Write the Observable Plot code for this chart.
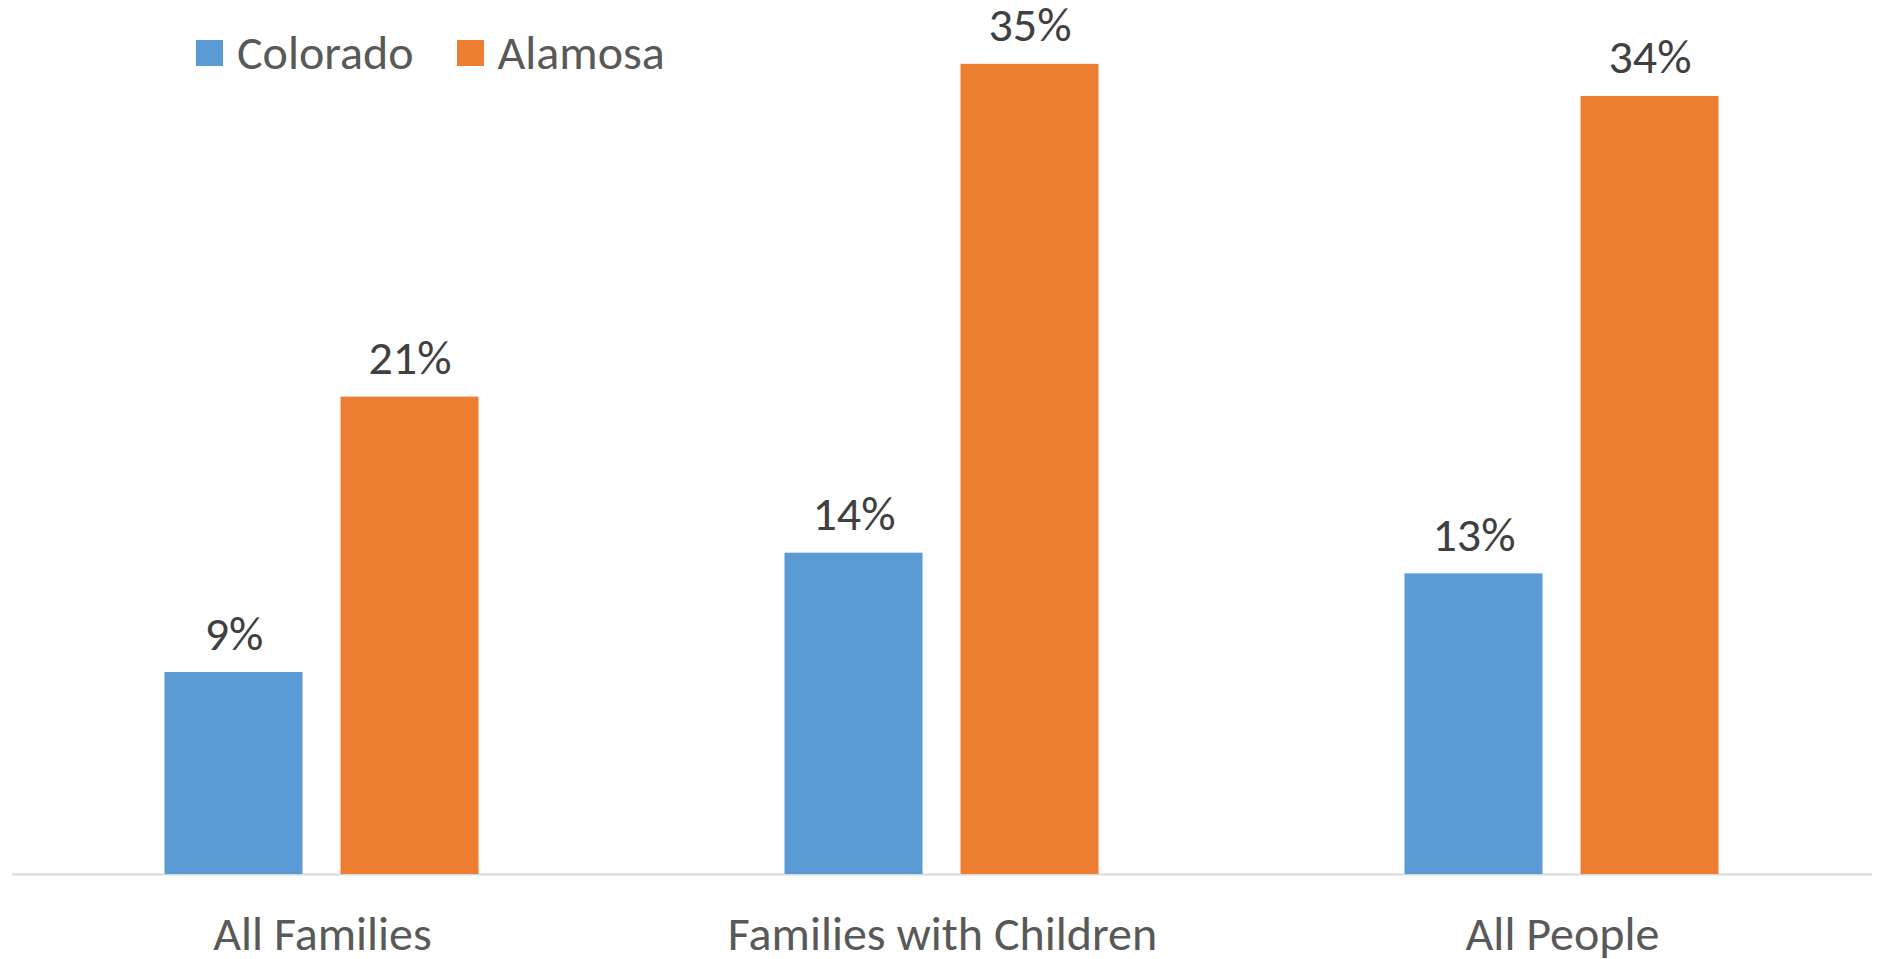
<!DOCTYPE html>
<html>
<head>
<meta charset="utf-8">
<script src="https://cdn.jsdelivr.net/npm/d3@7"></script>
<script src="https://cdn.jsdelivr.net/npm/@observablehq/plot@0.6"></script>
<style>
  html, body { margin: 0; padding: 0; background: #fff; }
  #wrap { position: relative; width: 1883px; height: 959px; font-family: Calibri, Carlito, Lato, sans-serif; }
  #legend { position: absolute; left: 196px; top: 23px; display: flex; align-items: center; font-size: 48px; color: #595959; }
  .sw { width: 27px; height: 26px; display: inline-block; margin-right: 14px; }
  .item { display: flex; align-items: center; margin-right: 43px; }
</style>
</head>
<body>
<div id="wrap"><div id="legend"></div></div>
<script>
const categories = ["All Families", "Families with Children", "All People"];
const seriesNames = ["Colorado", "Alamosa"];
const colorado = [8.8, 14.0, 13.1];
const alamosa = [20.8, 35.3, 33.9];
const seriesColors = ["#5b9bd5", "#ed7d31"];

const data = [];
categories.forEach((c, i) => {
  data.push({category: c, series: "Colorado", value: colorado[i]});
  data.push({category: c, series: "Alamosa", value: alamosa[i]});
});

const font = "Calibri, Carlito, Lato, sans-serif";

const chart = Plot.plot({
  width: 1883,
  height: 959,
  marginLeft: 10.5,
  marginRight: 10.5,
  marginTop: 0,
  marginBottom: 85,
  style: {fontFamily: font, fontSize: "48px", background: "#fff", overflow: "visible"},
  fx: {domain: categories, paddingInner: 0, paddingOuter: 0, label: null},
  x: {domain: seriesNames, paddingInner: 0.2147, paddingOuter: 0.8616, axis: null},
  y: {domain: [0, 38.08], axis: null},
  color: {domain: seriesNames, range: seriesColors},
  marks: [
    Plot.ruleY([0], {stroke: "#d9d9d9", strokeWidth: 2}),
    Plot.barY(data, {fx: "category", x: "series", y: "value", fill: "series"}),
    Plot.text(data, {fx: "category", x: "series", y: "value", text: d => Math.round(d.value) + "%",
      dy: -23, lineAnchor: "bottom", fill: "#404040", fontSize: 48}),
    Plot.axisFx({anchor: "bottom", tickSize: 0, tickPadding: 41, color: "#595959", fontSize: 48, label: null})
  ]
});
document.getElementById("wrap").appendChild(chart);

const legend = document.getElementById("legend");
seriesNames.forEach((s, i) => {
  const item = document.createElement("div");
  item.className = "item";
  const sw = document.createElement("span");
  sw.className = "sw";
  sw.style.background = seriesColors[i];
  item.appendChild(sw);
  item.appendChild(document.createTextNode(s));
  legend.appendChild(item);
});
</script>
</body>
</html>
